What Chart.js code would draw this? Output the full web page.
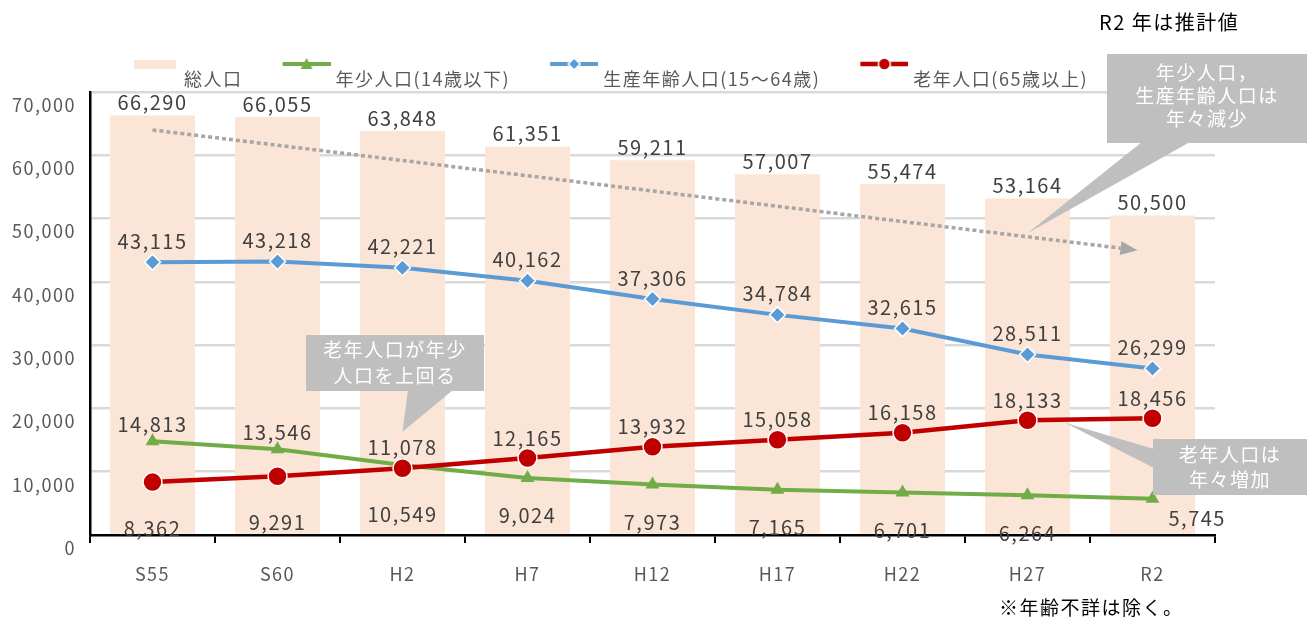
<!DOCTYPE html>
<html lang="ja">
<head>
<meta charset="utf-8">
<script src="https://cdn.jsdelivr.net/npm/chart.js@4.4.1/dist/chart.umd.min.js"></script>
<style>
  html, body { margin: 0; padding: 0; background: #fff; }
  #wrap { width: 1310px; height: 626px; }
</style>
</head>
<body>
<div id="wrap"><canvas id="chart" width="1310" height="626"></canvas></div>
<script>
// 年次
const categories = ['S55', 'S60', 'H2', 'H7', 'H12', 'H17', 'H22', 'H27', 'R2'];
// 人口（人）
const totalPop   = [66290, 66055, 63848, 61351, 59211, 57007, 55474, 53164, 50500];
const youngPop   = [14813, 13546, 11078, 9024, 7973, 7165, 6701, 6264, 5745];
const workingPop = [43115, 43218, 42221, 40162, 37306, 34784, 32615, 28511, 26299];
const elderlyPop = [8362, 9291, 10549, 12165, 13932, 15058, 16158, 18133, 18456];
const seriesNames = ['総人口', '年少人口(14歳以下)', '生産年齢人口(15～64歳)', '老年人口(65歳以上)'];
const yTickValues = [0, 10000, 20000, 30000, 40000, 50000, 60000, 70000];

const FONT = '"Noto Sans CJK JP", "Noto Sans", sans-serif';
const barColor = '#FBE5D6';
const green = '#70AD47';
const blue = '#5B9BD5';
const red = '#C00000';
const calloutGray = '#BFBFBF';

Chart.defaults.font.family = FONT;

const fmt = v => v.toLocaleString('en-US');

// legend markers: line + marker, drawn above the text line and nudged right
function legendMarker(draw) {
  const c = document.createElement('canvas');
  c.width = 56;
  c.height = 46;
  const g = c.getContext('2d');
  g.translate(8, 0);
  draw(g, 24, 8);
  return c;
}
const legendMarkers = [
  legendMarker((g, cx, cy) => {
    g.fillStyle = barColor;
    g.fillRect(3, cy - 4, 42, 9);
  }),
  legendMarker((g, cx, cy) => {
    g.strokeStyle = green; g.lineWidth = 4;
    g.beginPath(); g.moveTo(0, cy); g.lineTo(48, cy); g.stroke();
    g.fillStyle = green;
    g.beginPath(); g.moveTo(cx, cy - 6); g.lineTo(cx + 6, cy + 5); g.lineTo(cx - 6, cy + 5); g.closePath(); g.fill();
  }),
  legendMarker((g, cx, cy) => {
    g.strokeStyle = blue; g.lineWidth = 4;
    g.beginPath(); g.moveTo(0, cy); g.lineTo(48, cy); g.stroke();
    g.fillStyle = blue; g.strokeStyle = '#fff'; g.lineWidth = 1.5;
    g.beginPath(); g.moveTo(cx, cy - 6); g.lineTo(cx + 6, cy); g.lineTo(cx, cy + 6); g.lineTo(cx - 6, cy); g.closePath(); g.fill(); g.stroke();
  }),
  legendMarker((g, cx, cy) => {
    g.strokeStyle = red; g.lineWidth = 4.5;
    g.beginPath(); g.moveTo(0, cy); g.lineTo(48, cy); g.stroke();
    g.fillStyle = red; g.strokeStyle = '#fff'; g.lineWidth = 1.5;
    g.beginPath(); g.arc(cx, cy, 6, 0, Math.PI * 2); g.fill(); g.stroke();
  })
];

// wider character spacing like the original
const spacing = {
  id: 'spacing',
  beforeLayout(chart) { chart.ctx.letterSpacing = '1.5px'; },
  beforeDraw(chart) { chart.ctx.letterSpacing = '1.5px'; }
};

// callouts: tip given in data coords (category index, value)
const callouts = [
  { box: [1107, 54, 200, 89], side: 'bottom', base: [1142, 1190], tip: [7, 47700],
    lines: ['年少人口，', '生産年齢人口は', '年々減少'], y0: 73, step: 23 },
  { box: [306, 335, 178, 56], side: 'bottom', base: [408, 453], tip: [2, 16300],
    lines: ['老年人口が年少', '人口を上回る'], y0: 350, step: 26 },
  { box: [1153, 439, 154, 56], side: 'left', base: [449, 468], tip: [7.3, 17750],
    lines: ['老年人口は', '年々増加'], y0: 455, step: 25 }
];

const notes = {
  id: 'notes',
  afterDatasetsDraw(chart) {
    const ctx = chart.ctx;
    const xs = chart.scales.x, ys = chart.scales.y;

    // dotted trend arrow
    const ax0 = xs.getPixelForValue(0), ay0 = ys.getPixelForValue(64000);
    const ax1 = xs.getPixelForValue(7.88), ay1 = ys.getPixelForValue(45000);
    const ang = Math.atan2(ay1 - ay0, ax1 - ax0);
    const headLen = 17, headHalf = 7;
    ctx.save();
    ctx.strokeStyle = '#A6A6A6';
    ctx.fillStyle = '#A6A6A6';
    ctx.lineWidth = 3.5;
    ctx.setLineDash([4, 3]);
    ctx.beginPath();
    ctx.moveTo(ax0, ay0);
    ctx.lineTo(ax1 - headLen * Math.cos(ang), ay1 - headLen * Math.sin(ang));
    ctx.stroke();
    ctx.setLineDash([]);
    ctx.translate(ax1, ay1);
    ctx.rotate(ang);
    ctx.beginPath();
    ctx.moveTo(0, 0);
    ctx.lineTo(-headLen, -headHalf);
    ctx.lineTo(-headLen, headHalf);
    ctx.closePath();
    ctx.fill();
    ctx.restore();

    // callout boxes
    ctx.save();
    ctx.fillStyle = calloutGray;
    callouts.forEach(c => {
      const [bx, by, bw, bh] = c.box;
      const tx = xs.getPixelForValue(c.tip[0]);
      const ty = ys.getPixelForValue(c.tip[1]);
      ctx.fillRect(bx, by, bw, bh);
      ctx.beginPath();
      if (c.side === 'bottom') {
        ctx.moveTo(c.base[0], by + bh - 1);
        ctx.lineTo(c.base[1], by + bh - 1);
      } else {
        ctx.moveTo(bx + 1, c.base[0]);
        ctx.lineTo(bx + 1, c.base[1]);
      }
      ctx.lineTo(tx, ty);
      ctx.closePath();
      ctx.fill();
    });
    ctx.fillStyle = '#fff';
    ctx.font = '19px ' + FONT;
    ctx.textAlign = 'center';
    ctx.textBaseline = 'middle';
    callouts.forEach(c => {
      const cx = c.box[0] + c.box[2] / 2;
      c.lines.forEach((t, i) => ctx.fillText(t, cx, c.y0 + i * c.step));
    });
    ctx.restore();
  }
};

const valueLabels = {
  id: 'valueLabels',
  afterDatasetsDraw(chart) {
    const ctx = chart.ctx;
    ctx.save();
    ctx.font = '20px ' + FONT;
    ctx.fillStyle = '#404040';
    ctx.textBaseline = 'middle';
    chart.data.datasets.forEach((ds, di) => {
      const last = ds.data.length - 1;
      chart.getDatasetMeta(di).data.forEach((el, i) => {
        let x = el.x, y = el.y;
        ctx.textAlign = 'center';
        if (di === 0) {
          y -= 13;
        } else if (di === 1) {
          if (i === last) { ctx.textAlign = 'left'; x += 16; y += 20; }
          else y += youngPop[i] > elderlyPop[i] ? -17 : 38;
        } else if (di === 2) {
          y -= 21;
        } else {
          y += elderlyPop[i] > youngPop[i] ? -20 : 46;
        }
        ctx.fillText(fmt(ds.data[i]), x, y);
      });
    });
    ctx.restore();
  },
  afterDraw(chart) {
    const ctx = chart.ctx;
    ctx.save();
    ctx.fillStyle = '#000';
    ctx.textAlign = 'left';
    ctx.textBaseline = 'middle';
    ctx.font = '20px ' + FONT;
    ctx.fillText('R2 年は推計値', 1099, 22);
    ctx.font = '19px ' + FONT;
    ctx.fillText('※年齢不詳は除く。', 999, 608);
    ctx.restore();
  }
};

const lineBase = {
  type: 'line',
  tension: 0,
  fill: false,
  pointHoverRadius: 0
};

new Chart(document.getElementById('chart'), {
  type: 'bar',
  data: {
    labels: categories,
    datasets: [
      {
        label: seriesNames[0],
        data: totalPop,
        backgroundColor: barColor,
        barPercentage: 0.68,
        categoryPercentage: 1,
        order: 4
      },
      {
        ...lineBase,
        label: seriesNames[1],
        data: youngPop,
        borderColor: green,
        borderWidth: 4,
        pointStyle: 'triangle',
        pointRadius: 8,
        pointBackgroundColor: green,
        pointBorderColor: green,
        pointBorderWidth: 0,
        order: 3
      },
      {
        ...lineBase,
        label: seriesNames[2],
        data: workingPop,
        borderColor: blue,
        borderWidth: 4,
        pointStyle: 'rectRot',
        pointRadius: 8,
        pointBackgroundColor: blue,
        pointBorderColor: '#fff',
        pointBorderWidth: 1.5,
        order: 2
      },
      {
        ...lineBase,
        label: seriesNames[3],
        data: elderlyPop,
        borderColor: red,
        borderWidth: 4.5,
        pointStyle: 'circle',
        pointRadius: 9.5,
        pointBackgroundColor: red,
        pointBorderColor: '#fff',
        pointBorderWidth: 1.5,
        order: 1
      }
    ]
  },
  options: {
    responsive: false,
    animation: false,
    devicePixelRatio: 1,
    events: [],
    layout: { padding: { left: 0, right: 95, top: 34, bottom: 0 } },
    plugins: {
      tooltip: { enabled: false },
      legend: {
        position: 'top',
        maxHeight: 58,
        labels: {
          usePointStyle: true,
          pointStyleWidth: 48,
          padding: 36,
          color: '#595959',
          font: { size: 18 },
          generateLabels(chart) {
            const items = Chart.defaults.plugins.legend.labels.generateLabels(chart);
            items.forEach(it => { it.pointStyle = legendMarkers[it.datasetIndex]; });
            return items.sort((a, b) => a.datasetIndex - b.datasetIndex);
          }
        }
      }
    },
    scales: {
      x: {
        afterFit(scale) { scale.height = 91; },
        grid: {
          display: true,
          drawOnChartArea: false,
          drawTicks: true,
          tickLength: 8,
          color: '#000',
          lineWidth: 2
        },
        border: { display: true, color: '#000', width: 2.5 },
        ticks: { color: '#595959', font: { size: 18 }, padding: 20 }
      },
      y: {
        min: 0,
        max: 70000,
        afterFit(scale) { scale.width = 90; },
        afterBuildTicks(scale) { scale.ticks = yTickValues.map(v => ({ value: v })); },
        grid: {
          color: c => (c.tick && c.tick.value === 0 ? 'rgba(0,0,0,0)' : '#D9D9D9'),
          lineWidth: 2.5,
          drawTicks: false
        },
        border: { display: true, color: '#000', width: 2.5 },
        ticks: {
          color: '#595959',
          font: { size: 18 },
          padding: 14,
          labelOffset: 13,
          callback: v => fmt(v)
        }
      }
    }
  },
  plugins: [spacing, notes, valueLabels]
});
</script>
</body>
</html>
